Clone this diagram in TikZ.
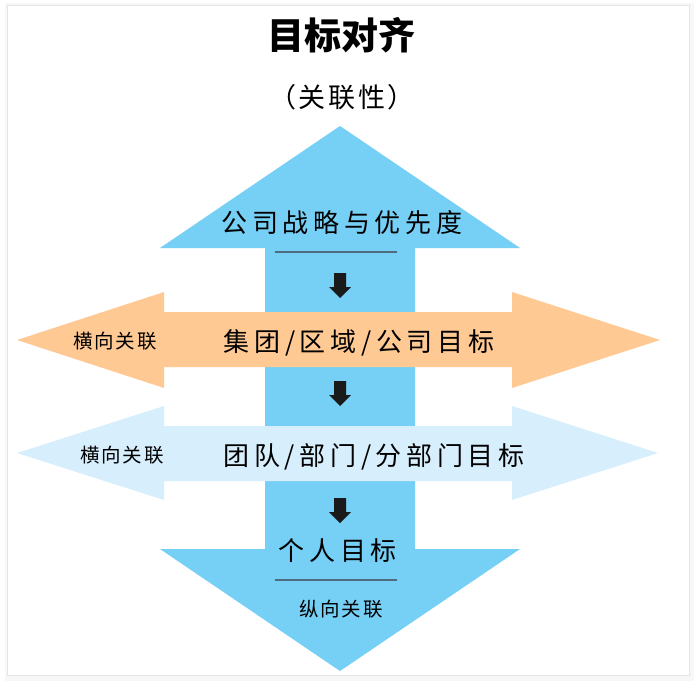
\documentclass[tikz,border=0pt]{standalone}
\usepackage{fontspec}
\usetikzlibrary{positioning}
\newfontfamily\cjk{Noto Sans CJK SC}
\newfontfamily\cjkwide[LetterSpace=18]{Noto Sans CJK SC}
\newfontfamily\cjksmall[LetterSpace=10]{Noto Sans CJK SC}
\definecolor{vertc}{HTML}{76CFF5}
\definecolor{orgc}{HTML}{FFC994}
\definecolor{paleblc}{HTML}{D7EEFC}
\definecolor{rulec}{HTML}{4F6B7F}
\definecolor{tipc}{HTML}{1A1A1A}

\begin{document}
\begin{tikzpicture}[x=1pt,y=-1pt,
      lvl/.style={font=\cjkwide\fontsize{26}{26}\selectfont,inner sep=0pt},
      side/.style={font=\cjksmall\fontsize{19.5}{19.5}\selectfont,inner sep=0pt},
      sep/.style={draw=rulec,line width=1.2pt},
    ]
    \useasboundingbox (0,0) rectangle (700,687);
    % card with soft shadow
    \fill[black!6] (9,7) rectangle (692,678);
    \fill[black!3] (5,3) rectangle (694,681);
    \filldraw[fill=white,draw=black!10] (7,5) rectangle (689,675);
    % vertical double arrow
    \fill[vertc] (340,126) -- (520,248) -- (415,248) -- (415,549) -- (520,549)
      -- (340,671) -- (160,549) -- (265,549) -- (265,248) -- (160,248) -- cycle;
    % horizontal arrows
    \fill[orgc] (17,340) -- (164,292) -- (164,312) -- (512,312) -- (512,292)
      -- (660,340) -- (512,388) -- (512,367) -- (164,367) -- (164,388) -- cycle;
    \fill[paleblc] (17,453) -- (164,406) -- (164,426) -- (512,426) -- (512,406)
      -- (658,453) -- (512,500) -- (512,481) -- (164,481) -- (164,500) -- cycle;
    % titles
    \node[font=\cjk\bfseries\fontsize{37}{37}\selectfont] (title) at (341,35) {目标对齐};
    \node[font=\cjksmall\fontsize{27}{27}\selectfont] (subtitle) at (342,97) {（关联性）};
    % levels
    \node[lvl] (strategy) at (342,223) {公司战略与优先度};
    \node[lvl] (group) at (359,343) {集团/区域/公司目标};
    \node[lvl] (team) at (374,457) {团队/部门/分部门目标};
    \node[lvl] (person) at (338,551) {个人目标};
    \node[side] (hleft) at (115,341) {横向关联};
    \node[side] (hleft2) at (122,455) {横向关联};
    \node[side] (vlink) at (341,609) {纵向关联};
    \draw[sep] (275,252) -- (397,252);
    \draw[sep] (275,580) -- (397,580);
    % small downward arrows
    \foreach \y in {273,381,498} {
      \fill[tipc] (334,\y) -- (346,\y) -- (346,\y+14) -- (351,\y+14)
        -- (340,\y+25) -- (329,\y+14) -- (334,\y+14) -- cycle;
    }
  \end{tikzpicture}
\end{document}
